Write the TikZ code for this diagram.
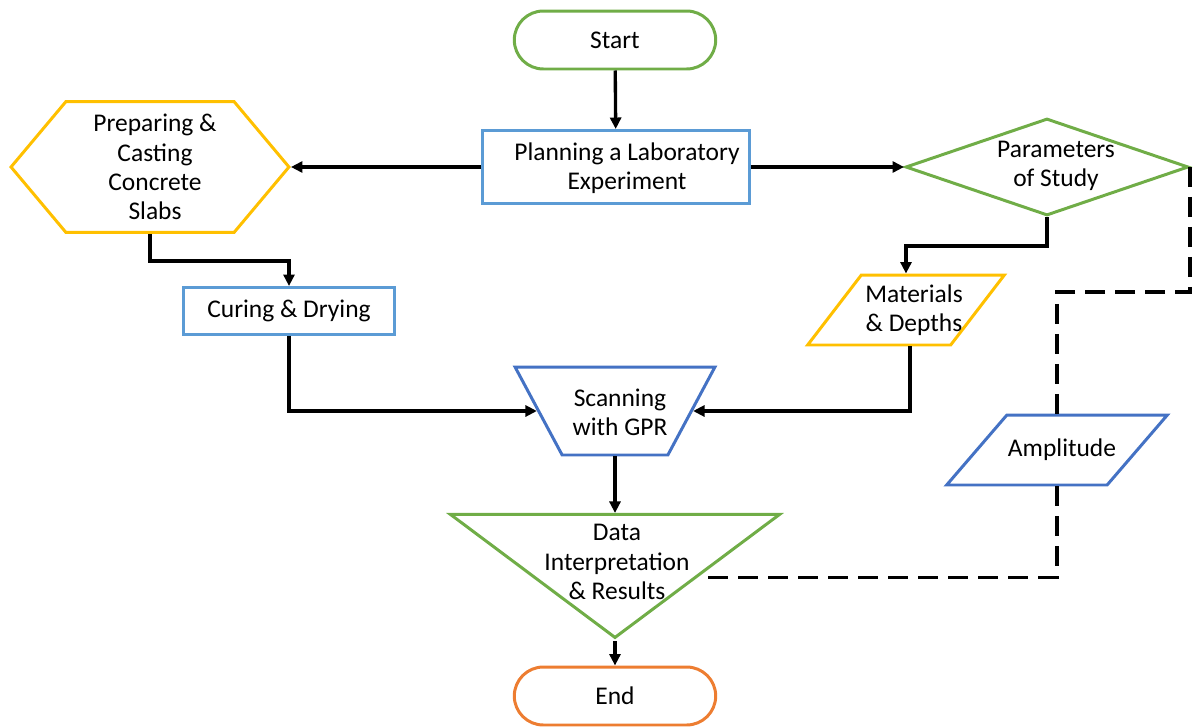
\documentclass[tikz,border=0pt]{standalone}
\usepackage{fontspec}
\setmainfont{Carlito}
\usetikzlibrary{shapes.geometric,shapes.misc,shapes.symbols,arrows.meta}
\definecolor{okgreen}{HTML}{70AD47}
\definecolor{skyblue}{HTML}{5B9BD5}
\definecolor{deepblue}{HTML}{4472C4}
\definecolor{gold}{HTML}{FFC000}
\definecolor{tangerine}{HTML}{ED7D31}
\begin{document}
\begin{tikzpicture}[x=0.02cm,y=-0.02cm,
  % blocks: every shape is drawn empty, its text sits in a txt node on top
  blk/.style={draw, fill=white, line width=1.7pt, inner sep=3pt},
  term/.style={blk, rounded rectangle, minimum width=4.24cm, minimum height=1.16cm},
  box/.style={blk, rectangle, minimum height=1.46cm},
  hexa/.style={blk, draw=gold, signal, signal to=west and east, signal pointer angle=100,
               minimum width=5.56cm, minimum height=2.62cm},
  dec/.style={blk, draw=okgreen, diamond, minimum width=5.66cm, minimum height=1.94cm},
  io/.style={blk, trapezium, trapezium stretches, trapezium left angle=59,
             trapezium right angle=121, minimum height=1.40cm},
  scanbox/.style={blk, draw=deepblue, trapezium, trapezium stretches, trapezium left angle=114,
             trapezium right angle=114, minimum width=4.0cm, minimum height=1.76cm},
  tri/.style={blk, draw=okgreen, isosceles triangle, isosceles triangle stretches,
              shape border rotate=270, minimum width=6.58cm, minimum height=2.46cm},
  txt/.style={align=center, inner sep=0pt, font=\fontsize{14.5}{16.6}\selectfont},
  % connectors
  flow/.style={-{Triangle[length=2.3mm,width=2.2mm]}, line width=1.9pt},
  dashline/.style={line width=1.9pt, dash pattern=on 4mm off 2mm},
  ]
  \useasboundingbox (0,0) rectangle (1194,727);
  % ---- blocks --------------------------------------------------------------------
  \node[term, draw=okgreen] (start) at (615,40) {};
  \node[txt] (starttxt) at (start) {Start};
  \node[box, draw=skyblue, minimum width=5.34cm] (plan) at (616,167) {};
  \node[txt] (plantxt) at (627,168) {Planning a Laboratory\\Experiment};
  \node[hexa] (prep) at (150,167) {};
  \node[txt] (preptxt) at (155,167) {Preparing \&\\Casting\\Concrete\\Slabs};
  \node[dec] (par) at (1047,167) {};
  \node[txt] (partxt) at (1056,166) {Parameters\\of Study};
  \node[box, draw=skyblue, minimum width=4.22cm, minimum height=0.94cm] (cur) at (289,311) {};
  \node[txt] (curtxt) at (cur) {Curing \& Drying};
  \node[io, draw=gold, minimum width=3.94cm] (mat) at (906,310) {};
  \node[txt] (mattxt) at (914,310) {Materials\\\& Depths};
  \node[scanbox] (scan) at (615,411) {};
  \node[txt] (scantxt) at (620,412) {Scanning\\with GPR};
  \node[io, draw=deepblue, minimum width=4.42cm] (amp) at (1057,450) {};
  \node[txt] (amptxt) at (1062,450) {Amplitude};
  \node[tri] (res) at (615,568) {};
  \node[txt] (restxt) at (617,562) {Data\\Interpretation\\\& Results};
  \node[term, draw=tangerine] (finish) at (615,696) {};
  \node[txt] (finishtxt) at (finish) {End};
  % ---- main flow -----------------------------------------------------------------
  \draw[flow] (start) -- (plan);
  \draw[flow] (plan.west) -- (prep.east);
  \draw[flow] (plan.east) -- (par.west);
  \draw[flow] (prep.south) -- ++(0,27) -| (cur.north);
  \draw[flow] (par.south) -- ++(0,29) -| (mat.north);
  \draw[flow] (cur.south) |- (scan);
  \draw[flow] ([xshift=0.08cm]mat.south) |- (scan);
  \draw[flow] (scan) -- (res);
  \draw[flow] (res) -- (finish);
  % ---- dashed link through the amplitude -------------------------------------------
  \draw[dashline] (par.east) -- ++(0,125) -| (amp.north);
  \draw[dashline] (amp.south) |- (res.left side);
\end{tikzpicture}
\end{document}
